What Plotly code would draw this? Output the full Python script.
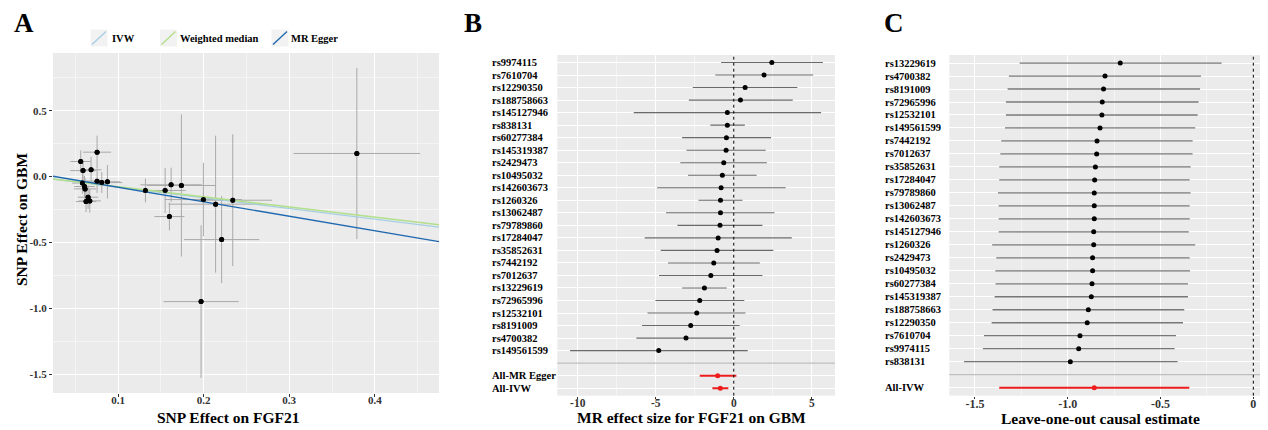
import plotly.graph_objects as go

# ---------------- Panel A data (scatter) ----------------
a_bx = [0.0755, 0.0564, 0.0591, 0.0685, 0.0755, 0.0810, 0.0876, 0.0584, 0.0608, 0.0615, 0.0650, 0.0626, 0.0670,
        0.132, 0.155, 0.162, 0.174, 0.160, 0.1997, 0.214, 0.234, 0.221, 0.197, 0.379]
a_by = [0.185, 0.114, 0.045, 0.051, -0.035, -0.046, -0.040, -0.050, -0.076, -0.094, -0.157, -0.190, -0.185,
        -0.106, -0.106, -0.063, -0.068, -0.304, -0.175, -0.210, -0.180, -0.479, -0.950, 0.175]
a_sex = [0.0165, 0.012, 0.015, 0.012, 0.014, 0.024, 0.015, 0.012, 0.012, 0.013, 0.012, 0.012, 0.013,
         0.004, 0.024, 0.036, 0.040, 0.0175, 0.045, 0.055, 0.046, 0.044, 0.044, 0.074]
a_sey = [0.125, 0.085, 0.07, 0.10, 0.09, 0.08, 0.127, 0.08, 0.08, 0.08, 0.09, 0.08, 0.09,
         0.09, 0.17, 0.13, 0.54, 0.105, 0.28, 0.52, 0.50, 0.33, 0.58, 0.65]
methods = ["IVW", "Weighted median", "MR Egger"]
method_intercepts = [0.0, 0.0, 0.028]
method_slopes = [-0.81, -0.77, -1.10]
method_colors = ["#a6cee3", "#b2df8a", "#1f68b0"]
a_xrange = [0.024, 0.475]
a_yrange = [-1.644, 0.938]
a_xticks = [0.1, 0.2, 0.3, 0.4]
a_xticktext = ["0.1", "0.2", "0.3", "0.4"]
a_yticks = [-1.5, -1.0, -0.5, 0.0, 0.5]
a_yticktext = ["-1.5", "-1.0", "-0.5", "0.0", "0.5"]

# ---------------- Panel B data (single SNP forest) ----------------
b_snps = ["rs9974115", "rs7610704", "rs12290350", "rs188758663", "rs145127946", "rs838131", "rs60277384",
          "rs145319387", "rs2429473", "rs10495032", "rs142603673", "rs1260326", "rs13062487", "rs79789860",
          "rs17284047", "rs35852631", "rs7442192", "rs7012637", "rs13229619", "rs72965996", "rs12532101",
          "rs8191009", "rs4700382", "rs149561599"]
b_est = [2.44, 1.94, 0.73, 0.43, -0.41, -0.41, -0.47, -0.49, -0.64, -0.73, -0.81, -0.85, -0.85, -0.88,
         -1.00, -1.07, -1.28, -1.47, -1.88, -2.18, -2.37, -2.76, -3.06, -4.81]
b_lo = [-0.81, -1.18, -2.63, -2.88, -6.41, -1.50, -3.31, -3.03, -3.42, -2.93, -4.91, -2.26, -4.34, -3.61,
        -5.71, -4.68, -4.21, -4.79, -3.31, -5.02, -5.53, -5.88, -6.24, -10.49]
b_hi = [5.71, 5.09, 4.08, 3.78, 5.60, 0.71, 2.39, 2.05, 2.12, 1.47, 3.33, 0.56, 2.61, 1.84,
        3.72, 2.54, 1.67, 1.84, -0.45, 0.68, 0.75, 0.38, 0.13, 0.90]
b_sum_labels = ["All-MR Egger", "All-IVW"]
b_sum_est = [-1.03, -0.86]
b_sum_lo = [-2.18, -1.37]
b_sum_hi = [0.17, -0.345]
b_xrange = [-11.31, 6.49]
b_xticks = [-10, -5, 0, 5]
b_xticktext = ["-10", "-5", "0", "5"]

# ---------------- Panel C data (leave-one-out) ----------------
c_snps = ["rs13229619", "rs4700382", "rs8191009", "rs72965996", "rs12532101", "rs149561599", "rs7442192",
          "rs7012637", "rs35852631", "rs17284047", "rs79789860", "rs13062487", "rs142603673", "rs145127946",
          "rs1260326", "rs2429473", "rs10495032", "rs60277384", "rs145319387", "rs188758663", "rs12290350",
          "rs7610704", "rs9974115", "rs838131"]
c_est = [-0.717, -0.799, -0.807, -0.814, -0.816, -0.826, -0.842, -0.844, -0.851, -0.855, -0.857, -0.857,
         -0.857, -0.860, -0.860, -0.866, -0.866, -0.869, -0.873, -0.889, -0.895, -0.934, -0.941, -0.986]
c_lo = [-1.259, -1.317, -1.324, -1.333, -1.333, -1.338, -1.358, -1.363, -1.369, -1.369, -1.376, -1.372,
        -1.372, -1.372, -1.407, -1.385, -1.390, -1.389, -1.394, -1.405, -1.410, -1.451, -1.457, -1.559]
c_hi = [-0.171, -0.282, -0.287, -0.295, -0.300, -0.313, -0.327, -0.327, -0.338, -0.343, -0.338, -0.343,
        -0.343, -0.348, -0.313, -0.343, -0.341, -0.352, -0.352, -0.372, -0.379, -0.417, -0.424, -0.408]
c_sum_labels = ["All-IVW"]
c_sum_est = [-0.857]
c_sum_lo = [-1.369]
c_sum_hi = [-0.345]
c_xrange = [-1.638, 0.079]
c_xticks = [-1.5, -1.0, -0.5, 0]
c_xticktext = ["-1.5", "-1.0", "-0.5", "0"]

# ---------------- figure ----------------
OFF = 8  # page body margin in the browser
W, H = 1268 - OFF, 430 - OFF
SERIF = "Liberation Serif"


def px(v):
    return (v - OFF) / W


def py(v):
    return 1 - (v - OFF) / H


fig = go.Figure()

# Panel A error bars + points
fig.add_trace(go.Scatter(
    x=a_bx, y=a_by, mode="markers", xaxis="x", yaxis="y",
    marker=dict(size=5, color="black"),
    error_x=dict(type="data", array=a_sex, color="#a9a9a9", thickness=1, width=0),
    error_y=dict(type="data", array=a_sey, color="#a9a9a9", thickness=1, width=0),
    showlegend=False, hoverinfo="skip"))
for name, b0, b1, col in zip(methods, method_intercepts, method_slopes, method_colors):
    fig.add_trace(go.Scatter(
        x=a_xrange, y=[b0 + b1 * a_xrange[0], b0 + b1 * a_xrange[1]],
        mode="lines", line=dict(color=col, width=1.4), xaxis="x", yaxis="y",
        name=name, showlegend=False, hoverinfo="skip"))
fig.add_trace(go.Scatter(x=a_bx, y=a_by, mode="markers", xaxis="x", yaxis="y",
                         marker=dict(size=5, color="black"), showlegend=False, hoverinfo="skip"))

# Panel B
b_rows = list(range(1, len(b_snps) + 1))
b_sum_rows = [len(b_snps) + 2 + i for i in range(len(b_sum_labels))]
fig.add_trace(go.Scatter(
    x=b_est, y=b_rows, mode="markers", xaxis="x2", yaxis="y2",
    marker=dict(size=5, color="black"),
    error_x=dict(type="data", symmetric=False,
                 array=[h - e for h, e in zip(b_hi, b_est)],
                 arrayminus=[e - l for e, l in zip(b_est, b_lo)],
                 color="#6a6a6a", thickness=1.1, width=0),
    showlegend=False, hoverinfo="skip"))
fig.add_trace(go.Scatter(
    x=b_sum_est, y=b_sum_rows, mode="markers", xaxis="x2", yaxis="y2",
    marker=dict(size=5, color="#ee1c1c"),
    error_x=dict(type="data", symmetric=False,
                 array=[h - e for h, e in zip(b_sum_hi, b_sum_est)],
                 arrayminus=[e - l for e, l in zip(b_sum_est, b_sum_lo)],
                 color="#ee1c1c", thickness=2, width=0),
    showlegend=False, hoverinfo="skip"))

# Panel C
c_rows = list(range(1, len(c_snps) + 1))
c_sum_rows = [len(c_snps) + 2 + i for i in range(len(c_sum_labels))]
fig.add_trace(go.Scatter(
    x=c_est, y=c_rows, mode="markers", xaxis="x3", yaxis="y3",
    marker=dict(size=5, color="black"),
    error_x=dict(type="data", symmetric=False,
                 array=[h - e for h, e in zip(c_hi, c_est)],
                 arrayminus=[e - l for e, l in zip(c_est, c_lo)],
                 color="#777777", thickness=1.3, width=0),
    showlegend=False, hoverinfo="skip"))
fig.add_trace(go.Scatter(
    x=c_sum_est, y=c_sum_rows, mode="markers", xaxis="x3", yaxis="y3",
    marker=dict(size=5, color="#ee1c1c"),
    error_x=dict(type="data", symmetric=False,
                 array=[h - e for h, e in zip(c_sum_hi, c_sum_est)],
                 arrayminus=[e - l for e, l in zip(c_sum_est, c_sum_lo)],
                 color="#ee1c1c", thickness=2, width=0),
    showlegend=False, hoverinfo="skip"))

tickfont_a = dict(family=SERIF, size=11, color="#333333", weight="bold")
grid_minor = "#f5f5f5"

fig.update_layout(
    width=W, height=H, margin=dict(l=0, r=0, t=0, b=0),
    paper_bgcolor="white", plot_bgcolor="#ebebeb",
    font=dict(family=SERIF, color="black"),
    xaxis=dict(domain=[px(53), px(439)], range=a_xrange, tickvals=a_xticks, ticktext=a_xticktext,
               showgrid=True, gridcolor="white", gridwidth=1.1, zeroline=False,
               ticks="outside", ticklen=3, tickcolor="#333333", tickfont=tickfont_a,
               ticklabelstandoff=-6,
               minor=dict(tickvals=[0.05, 0.15, 0.25, 0.35, 0.45], showgrid=True,
                          gridcolor=grid_minor, gridwidth=0.6, ticks=""),
               anchor="y"),
    yaxis=dict(domain=[py(393), py(53)], range=a_yrange, tickvals=a_yticks, ticktext=a_yticktext,
               showgrid=True, gridcolor="white", gridwidth=1.1, zeroline=False,
               ticks="outside", ticklen=3, tickcolor="#333333", tickfont=tickfont_a,
               minor=dict(tickvals=[-1.25, -0.75, -0.25, 0.25, 0.75], showgrid=True,
                          gridcolor=grid_minor, gridwidth=0.6, ticks=""),
               anchor="x"),
    xaxis2=dict(domain=[px(557.3), px(835)], range=b_xrange, tickvals=b_xticks, ticktext=b_xticktext,
                showgrid=True, gridcolor="white", gridwidth=1.1, zeroline=False,
                ticks="outside", ticklen=2, tickcolor="#333333", ticklabelstandoff=-6,
                tickfont=dict(family=SERIF, size=11.5, color="#333333", weight="bold"),
                minor=dict(tickvals=[-7.5, -2.5, 2.5], showgrid=True, gridcolor=grid_minor,
                           gridwidth=0.6, ticks=""),
                anchor="y2"),
    yaxis2=dict(domain=[py(395.7), py(55)], range=[len(b_snps) + len(b_sum_labels) + 1.6, 0.4],
                tickvals=b_rows + b_sum_rows, showticklabels=False,
                showgrid=True, gridcolor="white", gridwidth=1.1, zeroline=False, anchor="x2"),
    xaxis3=dict(domain=[px(949.3), 1.0], range=c_xrange, tickvals=c_xticks, ticktext=c_xticktext,
                showgrid=True, gridcolor="white", gridwidth=1.1, zeroline=False,
                ticks="outside", ticklen=2, tickcolor="#333333", ticklabelstandoff=-5,
                tickfont=dict(family=SERIF, size=12, color="#333333", weight="bold"),
                minor=dict(tickvals=[-1.25, -0.75, -0.25], showgrid=True, gridcolor=grid_minor,
                           gridwidth=0.6, ticks=""),
                anchor="y3"),
    yaxis3=dict(domain=[py(395.7), py(55)], range=[len(c_snps) + len(c_sum_labels) + 1.62, 0.38],
                tickvals=c_rows + c_sum_rows, showticklabels=False,
                showgrid=True, gridcolor="white", gridwidth=1.1, zeroline=False, anchor="x3"),
)

shapes = []
for xa, ya, nrow in (("x2", "y2", len(b_snps)), ("x3", "y3", len(c_snps))):
    shapes.append(dict(type="line", xref=xa + " domain", x0=0, x1=1, yref=ya, y0=nrow + 1, y1=nrow + 1,
                       line=dict(color="#bfbfbf", width=1.3), layer="above"))
    shapes.append(dict(type="line", xref=xa, x0=0, x1=0, yref=ya + " domain", y0=0, y1=1,
                       line=dict(color="black", width=1, dash="dot"), layer="above"))

annotations = []
legend_keys_x = [92, 161.5, 273]
legend_text_x = [110, 178.3, 289.3]
for name, col, kx, tx in zip(methods, method_colors, legend_keys_x, legend_text_x):
    shapes.append(dict(type="rect", xref="paper", yref="paper", x0=px(kx - 1.5), x1=px(kx + 15.5),
                       y0=py(46.5), y1=py(29.5), fillcolor="#f2f2f2", line=dict(width=0), layer="below"))
    shapes.append(dict(type="line", xref="paper", yref="paper", x0=px(kx), x1=px(kx + 14),
                       y0=py(44.5), y1=py(31.5), line=dict(color=col, width=1.4)))
    annotations.append(dict(text=name, xref="paper", yref="paper", x=px(tx), y=py(38.5),
                            xanchor="left", yanchor="middle", showarrow=False,
                            font=dict(family=SERIF, size=10.5, color="black", weight="bold")))

lab_font = dict(family=SERIF, size=10.5, color="black", weight="bold")
for lab, r in zip(b_snps + b_sum_labels, b_rows + b_sum_rows):
    annotations.append(dict(text=lab, xref="paper", yref="y2", x=px(490), y=r, xanchor="left",
                            yanchor="middle", showarrow=False, font=lab_font))
for lab, r in zip(c_snps + c_sum_labels, c_rows + c_sum_rows):
    annotations.append(dict(text=lab, xref="paper", yref="y3", x=px(883), y=r, xanchor="left",
                            yanchor="middle", showarrow=False, font=lab_font))

title_font = dict(family=SERIF, size=15.5, color="black", weight="bold")
annotations.append(dict(text="SNP Effect on FGF21", xref="paper", yref="paper", x=px(228), y=py(417),
                        xanchor="center", yanchor="middle", showarrow=False, font=title_font))
annotations.append(dict(text="SNP Effect on GBM", xref="paper", yref="paper", x=px(21), y=py(220),
                        xanchor="center", yanchor="middle", showarrow=False, textangle=-90, font=title_font))
annotations.append(dict(text="MR effect size for FGF21 on GBM", xref="paper", yref="paper", x=px(691),
                        y=py(417), xanchor="center", yanchor="middle", showarrow=False, font=title_font))
annotations.append(dict(text="Leave-one-out causal estimate", xref="paper", yref="paper", x=px(1100),
                        y=py(418), xanchor="center", yanchor="middle", showarrow=False, font=title_font))

for letter, lx in (("A", 12), ("B", 462), ("C", 882)):
    annotations.append(dict(text=letter, xref="paper", yref="paper", x=px(lx), y=py(23),
                            xanchor="left", yanchor="middle", showarrow=False,
                            font=dict(family=SERIF, size=27, color="black", weight="bold")))

fig.update_layout(shapes=shapes, annotations=annotations)
fig.write_html("out.html")
